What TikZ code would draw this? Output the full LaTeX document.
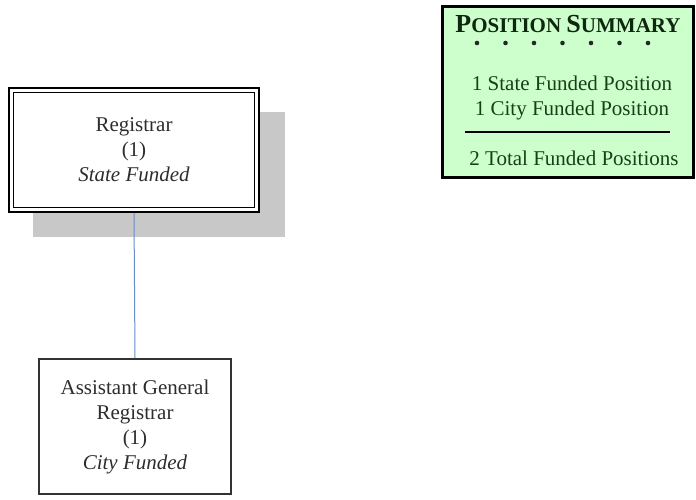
\documentclass[tikz,border=0pt]{standalone}
\usepackage{fontspec}
\setmainfont{Liberation Serif}
\usetikzlibrary{arrows}
\usetikzlibrary{positioning}
\definecolor{sumgreen}{RGB}{204,255,204}
\definecolor{sumtext}{RGB}{24,64,24}
\definecolor{linkblue}{RGB}{105,140,205}
\definecolor{shadowgray}{RGB}{200,200,200}
\definecolor{boxtext}{RGB}{45,45,45}

\begin{document}
\begin{tikzpicture}[x=0.5pt,y=-0.5pt,-,auto,
    head node/.style={draw=black,double,line width=0.8pt,double distance=1.6pt,fill=white,inner sep=0pt,
      minimum width=122.8pt,minimum height=59.8pt,align=center,text=boxtext,font=\fontsize{10.5}{12.5}\selectfont},
    staff node/.style={draw=black!80,line width=0.8pt,fill=white,inner sep=0pt,
      minimum width=96.2pt,minimum height=67.7pt,align=center,text=boxtext,font=\fontsize{10.5}{12.5}\selectfont},
    shadow node/.style={fill=shadowgray,inner sep=0pt,minimum width=126pt,minimum height=62.5pt},
    summary node/.style={draw=black,line width=1.3pt,fill=sumgreen,inner sep=0pt,minimum width=125.7pt,minimum height=85.7pt},
    sum text/.style={inner sep=0pt,align=center,text=sumtext,font=\fontsize{10.5}{12.5}\selectfont},
    dot node/.style={circle,fill=black!85,inner sep=0pt,minimum size=2.3pt}]
  \useasboundingbox (0,0) rectangle (696,499);
  \begin{scope}
    % org chart
    \node[shadow node] (regshadow) at (159,174.5) {};
    \coordinate (regfoot) at (134,213);
    \node[staff node] (asst) at (135,426.5) {Assistant General\\Registrar\\(1)\\\textit{City Funded}};
    \path[-,line width=0.5pt,color=linkblue] (regfoot) edge (asst.north);
    \node[head node] (reg) at (134,150) {Registrar\\(1)\\\textit{State Funded}};
  \end{scope}
  \begin{scope}
    % position summary
    \node[summary node] (sumbox) at (568,92) {};
    \node[sum text,text=sumtext!60!black] (sumtitle) at (568,24)
      {\bfseries{\fontsize{13}{14}\selectfont P}{\fontsize{10.5}{12}\selectfont OSITION} {\fontsize{13}{14}\selectfont S}{\fontsize{10.5}{12}\selectfont UMMARY}};
    \node[dot node] (d1) at (477,43) {};
    \node[dot node] (d2) at (505.5,43) {};
    \node[dot node] (d3) at (534,43) {};
    \node[dot node] (d4) at (562.5,43) {};
    \node[dot node] (d5) at (591,43) {};
    \node[dot node] (d6) at (619.5,43) {};
    \node[dot node] (d7) at (648,43) {};
    \node[sum text] (funded) at (572,97.5) {1 State Funded Position\\1 City Funded Position};
    \coordinate (rulel) at (465,132);
    \coordinate (ruler) at (670,132);
    \path[-,line width=1pt,color=black] (rulel) edge (ruler);
    \node[sum text] (total) at (574,158) {2 Total Funded Positions};
  \end{scope}
\end{tikzpicture}
\end{document}
